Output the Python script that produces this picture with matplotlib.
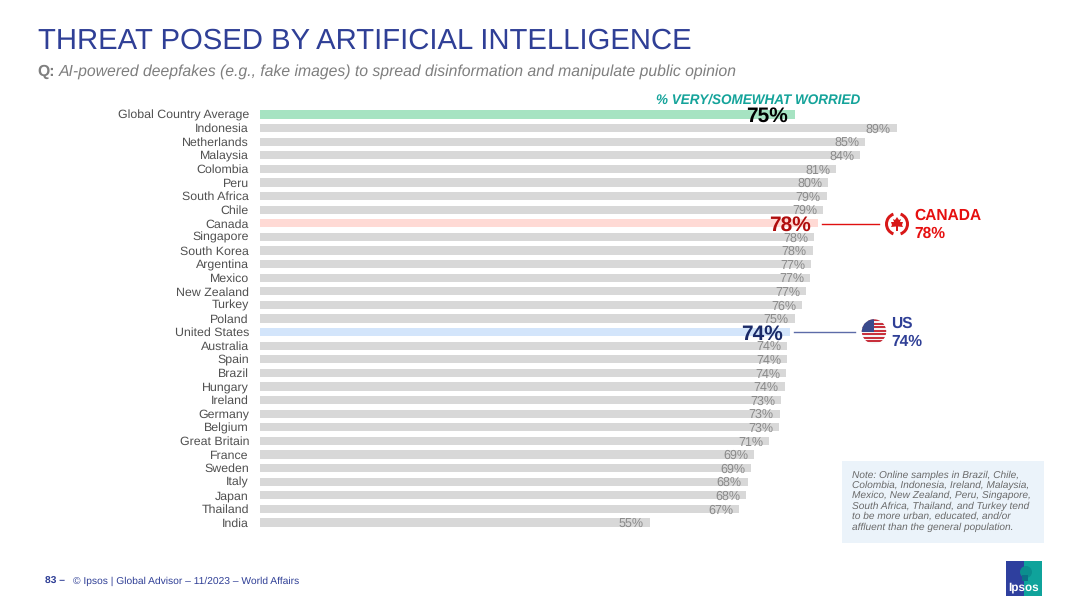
import matplotlib
matplotlib.use("Agg")
import matplotlib.pyplot as plt
from matplotlib.patches import Rectangle, Circle, Polygon, Wedge

plt.rcParams['font.family'] = ['Liberation Sans', 'DejaVu Sans']
plt.rcParams['text.hinting'] = 'no_hinting'
plt.rcParams['text.hinting_factor'] = 8

countries = ["Global Country Average","Indonesia","Netherlands","Malaysia","Colombia","Peru",
             "South Africa","Chile","Canada","Singapore","South Korea","Argentina","Mexico",
             "New Zealand","Turkey","Poland","United States","Australia","Spain","Brazil",
             "Hungary","Ireland","Germany","Belgium","Great Britain","France","Sweden","Italy",
             "Japan","Thailand","India"]
bar_values = [75.0,89.3,84.9,84.2,80.8,79.7,79.5,79.0,78.2,77.7,77.5,77.3,77.2,76.6,76.0,75.0,
              74.3,73.9,73.9,73.8,73.6,73.1,72.9,72.8,71.4,69.3,68.9,68.4,68.2,67.2,54.7]
labels = [75,89,85,84,81,80,79,79,78,78,78,77,77,77,76,75,74,74,74,74,74,73,73,73,71,69,69,68,68,67,55]

W, H = 1080, 607
BLUE = "#2F3F96"
fig = plt.figure(figsize=(W/100, H/100), dpi=100, facecolor="white")

ov = fig.add_axes([0, 0, 1, 1])
ov.set_xlim(0, W); ov.set_ylim(H, 0); ov.axis("off")

row = 13.6
top = 114.5 - row/2
n = len(countries)
ax = fig.add_axes([260/W, 1-(top+n*row)/H, 7.13*100/W, n*row/H])
ax.set_xlim(0, 100); ax.set_ylim(n-0.5, -0.5); ax.axis("off"); ax.patch.set_alpha(0)

colors = {0: "#A6E3C2", 8: "#FFDAD5", 16: "#D3E5FB"}
big = {0: "#000000", 8: "#B00D0D", 16: "#1A2A68"}
px = 1/7.13
for i, (c, v) in enumerate(zip(countries, bar_values)):
    ax.barh(i, v, height=8.2/row, color=colors.get(i, "#D8D8D8"), linewidth=0)
    ax.text(-11*px, i+1/row, c, ha="right", va="center", fontsize=8.9, color="#505050", clip_on=False)
for i, (v, l) in enumerate(zip(bar_values, labels)):
    if i in big:
        ax.text(v-7*px, i+2/row, f"{l}%", ha="right", va="center", fontsize=15,
                fontweight="bold", color=big[i], zorder=5)
    else:
        ax.text(v-6*px, i+1.2/row, f"{l}%", ha="right", va="center", fontsize=9,
                color="#8A8A8A", zorder=5)

def t(x, y, s, **k):
    k.setdefault("va", "center")
    ov.text(x, y, s, **k)

t(38, 41, "THREAT POSED BY ARTIFICIAL INTELLIGENCE", fontsize=21.1, color=BLUE)
t(37, 72, "Q:", fontsize=11.3, fontweight="bold", color="#7F7F7F")
t(59, 72, "AI-powered deepfakes (e.g., fake images) to spread disinformation and manipulate public opinion",
  fontsize=11.3, style="italic", color="#7F7F7F")
t(656, 100, "% VERY/SOMEWHAT WORRIED", fontsize=9.75, fontweight="bold", style="italic", color="#14A39A")

# Canada callout
ov.plot([822, 879], [223.5, 223.5], color="#E01010", lw=1)
t(914, 216, "CANADA", fontsize=11.2, fontweight="bold", color="#E60F0F")
t(914, 234, "78%", fontsize=11.2, fontweight="bold", color="#E60F0F")
ov.add_patch(Wedge((897, 224), 12, 110, 250, width=3, color="#D81818", lw=0))
ov.add_patch(Wedge((897, 224), 12, -70, 70, width=3, color="#D81818", lw=0))
maple = [(897,217),(899,220),(901,219),(900,222),(903,222),(902,225),(903,227),(898,226.5),(898,231),
         (896,231),(896,226.5),(891,227),(892,225),(891,222),(894,222),(893,219),(895,220)]
ov.add_patch(Polygon(maple, closed=True, color="#D81818", lw=0))

# US callout
ov.plot([794, 855], [332, 332], color="#5C6BA8", lw=1)
t(891, 324, "US", fontsize=11.2, fontweight="bold", color=BLUE)
t(891, 342, "74%", fontsize=11.2, fontweight="bold", color=BLUE)
clip = Circle((874, 331.5), 12.2, transform=ov.transData)
ov.add_patch(Circle((874, 331.5), 12.2, color="#F4F4F4", lw=0, zorder=0.5))
for k in range(7):
    r = Rectangle((860, 319.3+k*3.5), 28, 1.75, color="#C8303C", lw=0)
    ov.add_patch(r); r.set_clip_path(clip)
r = Rectangle((860, 319), 14, 12.5, color="#3A4A8C", lw=0, zorder=3)
ov.add_patch(r); r.set_clip_path(clip)

# note
ov.add_patch(Rectangle((842, 461), 202, 82, color="#EBF3FA", lw=0))
note = ["Note: Online samples in Brazil, Chile,", "Colombia, Indonesia, Ireland, Malaysia,",
        "Mexico, New Zealand, Peru, Singapore,", "South Africa, Thailand, and Turkey tend",
        "to be more urban, educated, and/or", "affluent than the general population."]
for k, line in enumerate(note):
    t(852, 475+k*10.4, line, fontsize=7.25, style="italic", color="#6A6A6A")

# footer
t(45, 581, "83 \u2013", fontsize=7.35, fontweight="bold", color=BLUE)
t(73, 581, "\u00a9 Ipsos | Global Advisor \u2013 11/2023 \u2013 World Affairs", fontsize=7.35, color=BLUE)

# logo
ov.add_patch(Rectangle((1006, 561), 18, 35, color="#2E3F9E", lw=0))
ov.add_patch(Rectangle((1024, 561), 18, 35, color="#0FA39B", lw=0))
ov.add_patch(Circle((1026, 572), 6, color="#0B8E8E", lw=0))
ov.add_patch(Rectangle((1022, 575), 6, 6, color="#0B6F86", lw=0))
t(1024, 587, "Ipsos", fontsize=8.5, fontweight="bold", color="white", ha="center")

fig.savefig("out.png", dpi=100)
